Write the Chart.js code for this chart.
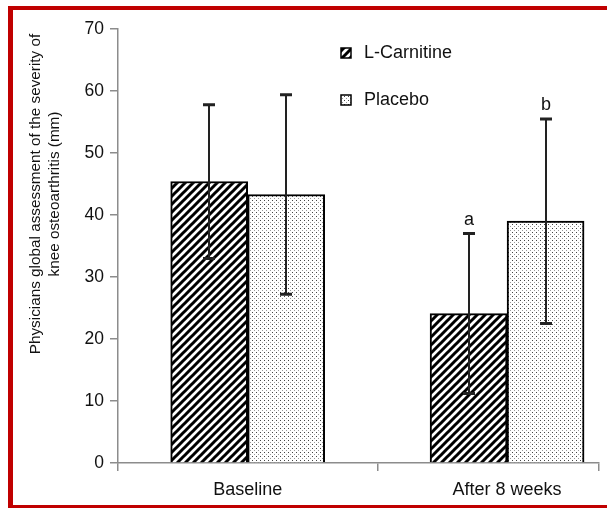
<!DOCTYPE html>
<html>
<head>
<meta charset="utf-8">
<script src="https://cdn.jsdelivr.net/npm/chart.js@4.4.0/dist/chart.umd.min.js"></script>
<style>
  body { margin: 0; background: #fff; }
  canvas { display: block; }
</style>
</head>
<body>
<canvas id="myChart" width="607" height="508"></canvas>
<script>
// data
const groups = ['Baseline', 'After 8 weeks'];
const seriesNames = ['L-Carnitine', 'Placebo'];
const carnitine = [45.4, 24.1];
const carnitineSd = [12.4, 12.9];
const placebo = [43.3, 39.0];
const placeboSd = [16.1, 16.5];
const carnitineMarks = ['', 'a'];
const placeboMarks = ['', 'b'];
const yTicks = [0, 10, 20, 30, 40, 50, 60, 70];
const yTitle = ['Physicians global assessment of the severity of', 'knee osteoarthritis (mm)'];

const FONT = '"Liberation Sans", Arial, sans-serif';
const canvas = document.getElementById('myChart');
const ctx = canvas.getContext('2d');

// fill patterns
function hatchPattern() {
    const c = document.createElement('canvas');
    c.width = c.height = 8;
    const g = c.getContext('2d');
    g.fillStyle = '#fff';
    g.fillRect(0, 0, 8, 8);
    g.strokeStyle = '#000';
    g.lineWidth = 3;
    g.beginPath();
    g.moveTo(0, 8); g.lineTo(8, 0);
    g.moveTo(-4, 4); g.lineTo(4, -4);
    g.moveTo(4, 12); g.lineTo(12, 4);
    g.stroke();
    return ctx.createPattern(c, 'repeat');
}
function dotPattern() {
    const c = document.createElement('canvas');
    c.width = c.height = 4;
    const g = c.getContext('2d');
    g.fillStyle = '#fff';
    g.fillRect(0, 0, 4, 4);
    g.fillStyle = '#444';
    g.fillRect(0, 0, 1, 1);
    g.fillStyle = '#999';
    g.fillRect(2, 2, 1, 1);
    return ctx.createPattern(c, 'repeat');
}
const hatch = hatchPattern();
const dots = dotPattern();

// x is linear so the category width can run past the right edge like the original
const xMax = -0.5 + 484 / 261;

const errorBars = {
    id: 'errorBars',
    afterDatasetsDraw(chart) {
        const y = chart.scales.y;
        const c = chart.ctx;
        const sets = [[carnitine, carnitineSd, carnitineMarks], [placebo, placeboSd, placeboMarks]];
        c.save();
        sets.forEach(([vals, sds, marks], di) => {
            chart.getDatasetMeta(di).data.forEach((bar, i) => {
                const x = Math.round(bar.x);
                const top = y.getPixelForValue(vals[i] + sds[i]);
                const bot = y.getPixelForValue(vals[i] - sds[i]);
                c.strokeStyle = '#222';
                c.lineWidth = 2;
                c.beginPath();
                c.moveTo(x, top); c.lineTo(x, bot);
                c.stroke();
                c.lineWidth = 3;
                c.beginPath();
                c.moveTo(x - 6, top); c.lineTo(x + 6, top);
                c.moveTo(x - 6, bot); c.lineTo(x + 6, bot);
                c.stroke();
                if (marks[i]) {
                    c.fillStyle = '#111';
                    c.font = '18px ' + FONT;
                    c.textAlign = 'center';
                    c.textBaseline = 'bottom';
                    c.fillText(marks[i], x, top - 5);
                }
            });
        });
        c.restore();
    }
};

const extras = {
    id: 'extras',
    afterDraw(chart) {
        const c = chart.ctx;
        c.save();
        // y title, two centred lines
        c.fillStyle = '#111';
        c.font = '15.3px ' + FONT;
        c.textAlign = 'center';
        c.textBaseline = 'middle';
        c.translate(45, 194);
        c.rotate(-Math.PI / 2);
        c.fillText(yTitle[0], 0, -9.5);
        c.fillText(yTitle[1], 0, 9.5);
        c.restore();

        // legend
        c.save();
        const fills = [hatch, dots];
        const rows = [53, 100];
        c.font = '18px ' + FONT;
        c.textBaseline = 'middle';
        c.textAlign = 'left';
        seriesNames.forEach((name, i) => {
            c.fillStyle = fills[i];
            c.fillRect(341, rows[i] - 5, 10, 10);
            c.strokeStyle = '#000';
            c.lineWidth = 1.5;
            c.strokeRect(341, rows[i] - 5, 10, 10);
            c.fillStyle = '#111';
            c.fillText(name, 364, rows[i]);
        });
        c.restore();

        // red frame
        c.save();
        c.fillStyle = '#c00000';
        c.fillRect(8, 6, 5, 502);
        c.fillRect(8, 6, 599, 4);
        c.fillRect(8, 505, 599, 3);
        c.restore();
    }
};

new Chart(ctx, {
    type: 'bar',
    data: {
        datasets: [
            {
                label: seriesNames[0],
                data: carnitine.map((v, i) => ({ x: i, y: v })),
                backgroundColor: hatch,
                borderColor: '#000',
                borderWidth: 2,
                barThickness: 77
            },
            {
                label: seriesNames[1],
                data: placebo.map((v, i) => ({ x: i, y: v })),
                backgroundColor: dots,
                borderColor: '#000',
                borderWidth: 2,
                barThickness: 77
            }
        ]
    },
    options: {
        responsive: false,
        animation: false,
        layout: { padding: { top: 29, right: 4, left: 0, bottom: 0 } },
        plugins: {
            legend: { display: false },
            tooltip: { enabled: false }
        },
        scales: {
            x: {
                type: 'linear',
                min: -0.5,
                max: xMax,
                offset: false,
                afterBuildTicks(scale) {
                    scale.ticks = [-0.5, 0, 0.5, 1, xMax].map(v => ({ value: v }));
                },
                afterFit(scale) { scale.height = 45; },
                grid: {
                    offset: false,
                    drawOnChartArea: false,
                    tickLength: 8,
                    color: c => (c.tick && Number.isInteger(c.tick.value)) ? 'rgba(0,0,0,0)' : '#8c8c8c',
                    lineWidth: 1.5
                },
                border: { color: '#8c8c8c', width: 1.5 },
                ticks: {
                    autoSkip: false,
                    maxRotation: 0,
                    padding: 8,
                    color: '#111',
                    font: { family: FONT, size: 18 },
                    callback: v => Number.isInteger(v) ? groups[v] : ''
                }
            },
            y: {
                min: 0,
                max: 70,
                afterBuildTicks(scale) {
                    scale.ticks = yTicks.map(v => ({ value: v }));
                },
                afterFit(scale) { scale.width = 118; },
                grid: {
                    drawOnChartArea: false,
                    tickLength: 8,
                    color: '#8c8c8c',
                    lineWidth: 1.5
                },
                border: { color: '#8c8c8c', width: 1.5 },
                ticks: {
                    padding: 6,
                    color: '#111',
                    font: { family: FONT, size: 17.5 }
                }
            }
        }
    },
    plugins: [errorBars, extras]
});
</script>
</body>
</html>
